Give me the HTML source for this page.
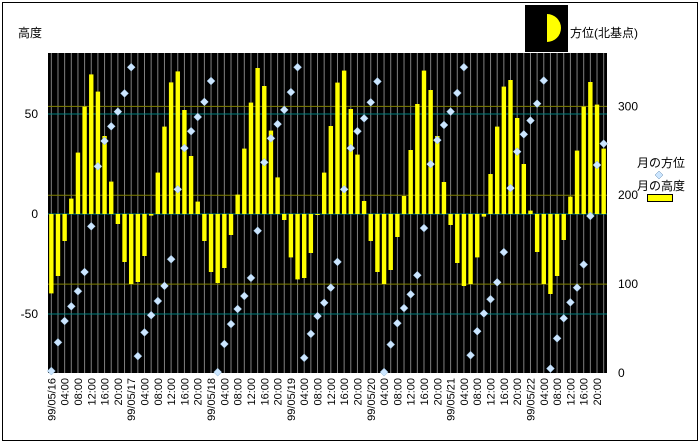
<!DOCTYPE html>
<html><head><meta charset="utf-8">
<style>
html,body{margin:0;padding:0;background:#fff;}
svg{display:block;font-family:"Liberation Sans","Noto Sans CJK JP",sans-serif;}
</style></head>
<body>
<svg id="chart" width="700" height="443" viewBox="0 0 700 443">
<rect x="2.5" y="2.5" width="695" height="438" fill="#fff" stroke="#000"/>
<rect x="48" y="53" width="559" height="320" fill="#000"/>
<g id="grid"></g>
<g id="bars"></g>
<g id="points"></g>
<g id="xlabels"></g>
<g id="yticks"></g>
<text x="18" y="37" font-size="12">高度</text>
<rect x="525" y="5" width="43" height="47" fill="#000"/>
<path d="M547 14 A14 14 0 0 1 547 42 Z" fill="#ffff00"/>
<text x="570" y="37" font-size="12">方位(北基点)</text>
<text x="637" y="167" font-size="12">月の方位</text>
<path d="M659 171 L663 175 L659 179 L655 175 Z" fill="#cce6ff" stroke="#6a8fb0" stroke-width="0.5"/>
<text x="637" y="190" font-size="12">月の高度</text>
<rect x="647.5" y="194.5" width="25" height="7" fill="#ffff00" stroke="#000"/>
</svg>
<script>
const altitude=[-39.7,-31,-13.5,7.7,30.7,53.7,69.8,61.2,39,16.2,-5,-24,-35,-34,-21,-0.8,20.7,43.7,65.8,71.3,52,29,
6.2,-13.5,-29,-34.5,-27,-10.5,9.7,32.7,55.7,73,64,41.7,18.3,-3,-21.7,-32.7,-32,-19.5,-0.5,20.7,
44,65.7,71.7,52.5,29.7,6.5,-13.5,-29,-35,-28,-11.5,9,32,55,71.7,62,39,16,-5.5,-24.5,-36,
-35,-21.7,-1.3,20,43.7,63.7,67,48,25,1.7,-19,-35,-40,-31,-13,8.7,31.7,53.7,66,54.7,32.7];
const azimuth=[2.2,34.5,58.5,75,92,113.6,165,232.5,261,277.5,294,314.6,344,19,45.7,65,81,98,128,206.6,253,272,
288,305,328.5,1,32.6,55,72,86.6,107,160,237,264,280,296,316,344,17,44,64,79,
96,125,206.6,253,272,286.5,304.5,328,1,32,56,73,88.5,110,163,235,262,279,294,315,344,
20,47,67,83,102,136,208,249,268.5,284,303,329,5,39,61.5,79.5,96,122,176.6,234,258];
const days=["99/05/16","99/05/17","99/05/18","99/05/19","99/05/20","99/05/21","99/05/22"];
const leftTicks=[-50,0,50];
const rightTicks=[0,100,200,300];
const NS="http://www.w3.org/2000/svg";
const X0=48,X1=607,Y0=53,Y1=373,N=altitude.length;
const step=(X1-X0)/N;
function xPos(i){return X0+(i+0.5)*step;}
function yL(v){return 214-v*2;}
function yR(v){return Y1-v*(320/360);}
function mk(tag,attrs,parent){const e=document.createElementNS(NS,tag);for(const k in attrs)e.setAttribute(k,attrs[k]);parent.appendChild(e);return e;}
const grid=document.getElementById('grid');
for(let i=0;i<N;i++){
  const l=mk('line',{x1:xPos(i),x2:xPos(i),y1:Y0,y2:Y1,stroke:'#808080','stroke-width':1},grid);
  
  
}
leftTicks.forEach(v=>{
  const l=mk('line',{x1:X0,x2:X1,y1:yL(v),y2:yL(v),stroke:'#008080','stroke-width':1},grid);
  
  
});
rightTicks.filter(v=>v>0).forEach(v=>{
  const l=mk('line',{x1:X0,x2:X1,y1:yR(v),y2:yR(v),stroke:'#808000','stroke-width':1},grid);
  
  
});
const bars=document.getElementById('bars');
altitude.forEach((v,i)=>{
  const y=Math.min(yL(v),yL(0)),h=Math.max(Math.abs(yL(v)-yL(0)),1);
  const r=mk('rect',{x:xPos(i)-2.2,y:y,width:4.4,height:h,fill:'#ffff00'},bars);
  
  
});
const pts=document.getElementById('points');
azimuth.forEach((v,i)=>{
  const x=xPos(i),y=yR(v);
  const p=mk('path',{d:`M${x} ${y-4}L${x+4} ${y}L${x} ${y+4}L${x-4} ${y}Z`,fill:'#cce6ff',stroke:'#8fb3d0','stroke-width':0.5},pts);
  
  
});
const xl=document.getElementById('xlabels');
for(let i=0;i<N;i+=2){
  const h=(i%12)*2;
  const txt=(i%12===0)?days[i/12]:(String(h).padStart(2,'0')+':00');
  const x=xPos(i)+4,y=378;
  const t=mk('text',{x:x,y:y,'font-size':11,'text-anchor':'end',transform:`rotate(-90 ${x} ${y})`},xl);
  t.textContent=txt;
  
  
}
const yt=document.getElementById('yticks');
leftTicks.forEach(v=>{
  const t=mk('text',{x:38,y:yL(v)+4,'font-size':12,'text-anchor':'end'},yt);
  t.textContent=String(v);
  
  
});
rightTicks.forEach(v=>{
  const t=mk('text',{x:618,y:yR(v)+4,'font-size':12},yt);
  t.textContent=String(v);
  
  
});
</script>
</body></html>
